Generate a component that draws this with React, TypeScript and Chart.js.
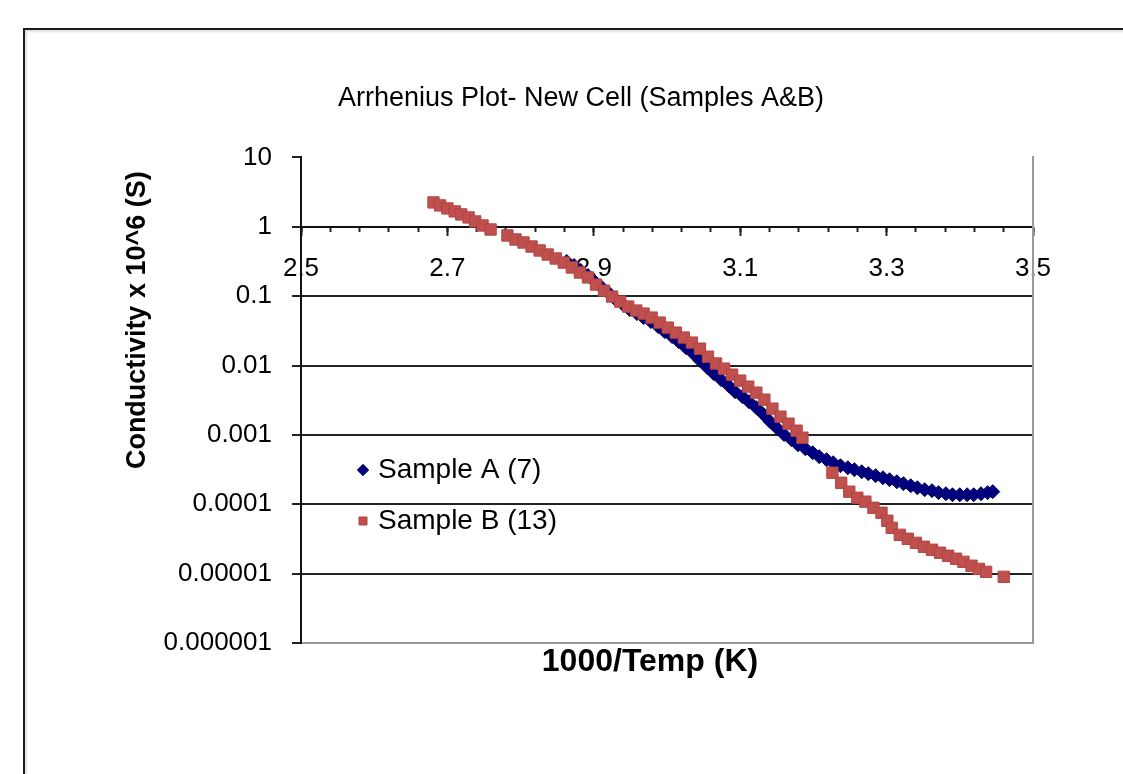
import React, { useEffect, useRef } from 'react';
import { Chart, registerables } from 'chart.js';

Chart.register(...registerables);

// ---------------- data ----------------
const chartTitle = 'Arrhenius Plot- New Cell (Samples A&B)';
const xAxisTitle = '1000/Temp (K)';
const yAxisTitle = 'Conductivity x 10^6 (S)';
const seriesNames = ['Sample A (7)', 'Sample B (13)'];

const xTickLabels = ['2.5', '2.7', '2.9', '3.1', '3.3', '3.5'];
const yTickValues = [0.000001, 0.00001, 0.0001, 0.001, 0.01, 0.1, 1, 10];
const yTickLabels = ['0.000001', '0.00001', '0.0001', '0.001', '0.01', '0.1', '1', '10'];

const sampleAX = [
  2.863, 2.873, 2.882, 2.892, 2.901, 2.911, 2.921, 2.930, 2.940, 2.949,
  2.959, 2.968, 2.978, 2.988, 2.997, 3.007, 3.016, 3.026, 3.036, 3.045,
  3.055, 3.064, 3.074, 3.084, 3.093, 3.103, 3.112, 3.122, 3.132, 3.141,
  3.151, 3.160, 3.170, 3.179, 3.189, 3.199, 3.208, 3.218, 3.227, 3.237,
  3.247, 3.256, 3.266, 3.275, 3.285, 3.295, 3.304, 3.314, 3.323, 3.333,
  3.342, 3.352, 3.362, 3.371, 3.381, 3.390, 3.400, 3.410, 3.419, 3.429,
  3.438, 3.445,
];
const sampleAY = [
  0.316, 0.276, 0.234, 0.198, 0.162, 0.133, 0.109, 0.0893, 0.0757, 0.0641,
  0.0561, 0.0491, 0.0430, 0.0364, 0.0308, 0.0261, 0.0221, 0.0181, 0.0148, 0.0118,
  0.00933, 0.00764, 0.00626, 0.00513, 0.00420, 0.00356, 0.00301, 0.00247, 0.00196, 0.00155,
  0.00123, 0.00101, 0.000853, 0.000722, 0.000632, 0.000553, 0.000485, 0.000439, 0.000397, 0.000359,
  0.000336, 0.000315, 0.000294, 0.000276, 0.000258, 0.000241, 0.000226, 0.000211, 0.000198, 0.000185,
  0.000173, 0.000162, 0.000157, 0.000147, 0.000142, 0.000137, 0.000137, 0.000137, 0.000137, 0.000142,
  0.000147, 0.000152,
];

const sampleBX = [
  2.681, 2.690, 2.700, 2.710, 2.719, 2.729, 2.738, 2.748, 2.759, 2.782,
  2.793, 2.804, 2.815, 2.826, 2.837, 2.848, 2.859, 2.870, 2.881, 2.892,
  2.903, 2.914, 2.925, 2.936, 2.947, 2.958, 2.968, 2.979, 2.990, 3.001,
  3.012, 3.023, 3.034, 3.045, 3.056, 3.067, 3.078, 3.089, 3.100, 3.111,
  3.122, 3.133, 3.144, 3.155, 3.166, 3.177, 3.185, 3.226, 3.238, 3.249,
  3.260, 3.271, 3.282, 3.293, 3.301, 3.307, 3.318, 3.329, 3.340, 3.351,
  3.362, 3.373, 3.384, 3.395, 3.405, 3.416, 3.426, 3.436, 3.460,
];
const sampleBY = [
  2.242, 2.030, 1.837, 1.663, 1.505, 1.362, 1.193, 1.044, 0.914, 0.749,
  0.656, 0.593, 0.519, 0.455, 0.398, 0.349, 0.305, 0.259, 0.219, 0.186,
  0.147, 0.120, 0.0987, 0.0836, 0.0708, 0.0620, 0.0561, 0.0491, 0.0416, 0.0352,
  0.0298, 0.0253, 0.0214, 0.0175, 0.0134, 0.0107, 0.00902, 0.00739, 0.00605, 0.00496,
  0.00406, 0.00322, 0.00239, 0.00183, 0.00145, 0.00115, 0.000911, 0.000285, 0.000204, 0.000152,
  0.000124, 0.000109, 0.0000890, 0.0000754, 0.0000578, 0.0000458, 0.0000363, 0.0000318, 0.0000278, 0.0000244,
  0.0000221, 0.0000200, 0.0000181, 0.0000164, 0.0000148, 0.0000130, 0.0000117, 0.0000106, 0.00000899,
];

// ---------------- styling ----------------
const FONT = "'Liberation Sans', Arial, Helvetica, sans-serif";
const CANVAS_W = 1138;
const CANVAS_H = 774;
const LEGEND_LEFT = 339;
const LEGEND_TOP = 433;
const X_TITLE_SHIFT = -17;
const Y_TITLE_SHIFT = -80;

const toPoints = (xs: number[], ys: number[]) => xs.map((x, i) => ({ x, y: ys[i] }));

const xLabelFor = (v: number) => {
  const hit = xTickLabels.find((l) => Math.abs(Number(l) - v) < 1e-6);
  return hit ?? '';
};

// places the legend inside the plot and nudges the (data-less) title axes
const layoutTweaks = {
  id: 'layoutTweaks',
  afterLayout(chart: any) {
    const lg = chart.legend;
    if (lg) {
      const w = lg.width;
      const h = lg.height;
      lg.left = LEGEND_LEFT;
      lg.top = LEGEND_TOP;
      lg.right = LEGEND_LEFT + w;
      lg.bottom = LEGEND_TOP + h;
    }
    const xt = chart.scales.xTitle;
    if (xt) {
      xt.left += X_TITLE_SHIFT;
      xt.right += X_TITLE_SHIFT;
    }
    const yt = chart.scales.yTitle;
    if (yt) {
      yt.top += Y_TITLE_SHIFT;
      yt.bottom += Y_TITLE_SHIFT;
    }
  },
};

export default function App() {
  const canvasRef = useRef<HTMLCanvasElement | null>(null);

  useEffect(() => {
    if (!canvasRef.current) return;
    const chart = new Chart(canvasRef.current, {
      type: 'scatter',
      data: {
        datasets: [
          {
            label: seriesNames[0],
            data: toPoints(sampleAX, sampleAY),
            pointStyle: 'rectRot',
            pointRadius: 7,
            backgroundColor: '#000080',
            borderColor: '#00005c',
            borderWidth: 1,
            showLine: false,
            order: 2,
            xAxisID: 'x',
            yAxisID: 'y',
          },
          {
            label: seriesNames[1],
            data: toPoints(sampleBX, sampleBY),
            pointStyle: 'rect',
            pointRadius: 8,
            backgroundColor: '#C0504D',
            borderColor: '#b04542',
            borderWidth: 1,
            showLine: false,
            order: 1,
            xAxisID: 'x',
            yAxisID: 'y',
          },
        ],
      },
      options: {
        animation: false,
        responsive: false,
        events: [],
        layout: { padding: { left: 24, top: 29, right: 0, bottom: 0 } },
        plugins: {
          title: {
            display: true,
            text: chartTitle,
            color: '#000',
            font: { family: FONT, size: 27, weight: 'normal' },
            padding: { top: 53, bottom: 43 },
          },
          legend: {
            display: true,
            position: 'chartArea',
            align: 'start',
            labels: {
              usePointStyle: true,
              boxWidth: 2,
              boxHeight: 8,
              padding: 23,
              color: '#000',
              font: { family: FONT, size: 28 },
              sort: (a: any, b: any) => a.datasetIndex - b.datasetIndex,
            },
          },
          tooltip: { enabled: false },
        },
        scales: {
          x: {
            type: 'linear',
            position: { y: 1 },
            min: 2.5,
            max: 3.5,
            grid: { drawOnChartArea: false, drawTicks: true, tickLength: 8, tickColor: '#222', tickWidth: 2 },
            border: { display: true, color: '#111', width: 2 },
            ticks: {
              stepSize: 0.2,
              autoSkip: false,
              maxRotation: 0,
              minRotation: 0,
              padding: 18,
              color: '#000',
              font: { family: FONT, size: 26 },
              callback: (v: any) => xLabelFor(Number(v)),
            },
          },
          xMinor: {
            type: 'linear',
            axis: 'x',
            position: { y: 1 },
            min: 2.5,
            max: 3.5,
            grid: { drawOnChartArea: false, drawTicks: true, tickLength: 5, tickColor: '#222', tickWidth: 2 },
            border: { display: false },
            ticks: { stepSize: 0.04, display: false, autoSkip: false },
          },
          xTitle: {
            type: 'linear',
            axis: 'x',
            position: 'bottom',
            min: 0,
            max: 1,
            grid: { display: false, drawTicks: false },
            border: { display: false },
            ticks: { display: false },
            title: {
              display: true,
              text: xAxisTitle,
              color: '#000',
              font: { family: FONT, size: 32, weight: 'bold' },
              padding: { top: 0, bottom: 93 },
            },
            afterFit: (s: any) => {
              s.height = 131;
            },
          },
          yTitle: {
            type: 'linear',
            axis: 'y',
            position: 'left',
            weight: 1,
            min: 0,
            max: 1,
            grid: { display: false, drawTicks: false },
            border: { display: false },
            ticks: { display: false },
            title: {
              display: true,
              text: yAxisTitle,
              color: '#000',
              font: { family: FONT, size: 27, weight: 'bold' },
              padding: { top: 97, bottom: 0 },
            },
            afterFit: (s: any) => {
              s.width = 130;
            },
          },
          y: {
            type: 'logarithmic',
            position: 'left',
            weight: 0,
            min: 0.000001,
            max: 10,
            afterBuildTicks: (s: any) => {
              s.ticks = yTickValues.map((v) => ({ value: v }));
            },
            afterFit: (s: any) => {
              s.width = 147;
            },
            grid: {
              color: (c: any) => {
                const v = c.tick ? c.tick.value : 0;
                if (v >= 10) return 'rgba(0,0,0,0)';
                if (v <= 0.000001) return '#9a9a9a';
                return '#222';
              },
              lineWidth: 2,
              tickLength: 9,
              tickColor: '#222',
              tickWidth: 2,
            },
            border: { display: true, color: '#111', width: 2 },
            ticks: {
              autoSkip: false,
              padding: 20,
              color: '#000',
              font: { family: FONT, size: 26 },
              callback: (_v: any, i: number) => yTickLabels[i],
            },
          },
          y2: {
            type: 'linear',
            axis: 'y',
            position: 'right',
            grid: { display: false, drawTicks: false },
            ticks: { display: false },
            border: { display: true, color: '#9a9a9a', width: 2 },
            afterFit: (s: any) => {
              s.width = 105;
            },
          },
        },
      } as any,
      plugins: [layoutTweaks],
    });
    return () => chart.destroy();
  }, []);

  return (
    <div
      style={{
        position: 'fixed',
        left: 0,
        top: 0,
        width: 1123,
        height: 774,
        overflow: 'hidden',
        background: '#fff',
      }}
    >
      <div
        style={{
          position: 'absolute',
          left: 23,
          top: 28,
          width: 1300,
          height: 1000,
          borderTop: '2px solid #1c1c1c',
          borderLeft: '2px solid #1c1c1c',
          boxShadow: 'inset 2px 2px 2px rgba(0,0,0,0.12)',
        }}
      />
      <canvas
        ref={canvasRef}
        width={CANVAS_W}
        height={CANVAS_H}
        style={{ position: 'absolute', left: 0, top: 0, display: 'block' }}
      />
    </div>
  );
}
